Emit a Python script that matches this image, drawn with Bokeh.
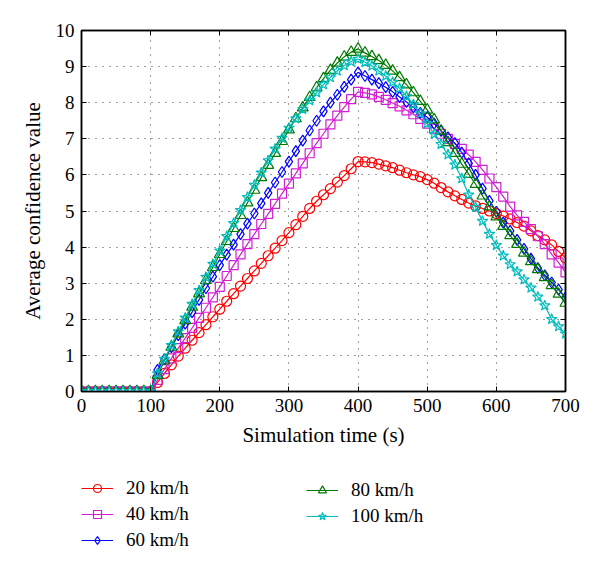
from bokeh.plotting import figure
from bokeh.layouts import column
from bokeh.models import Range1d, LinearAxis, Legend, LegendItem, FixedTicker
from bokeh.embed import file_html
from bokeh.resources import INLINE

# ---------------- data ----------------
time = list(range(0, 710, 10))
x_ticks = [0, 100, 200, 300, 400, 500, 600, 700]
y_ticks = [0, 1, 2, 3, 4, 5, 6, 7, 8, 9, 10]

zeros = [0, 0, 0, 0, 0, 0, 0, 0, 0, 0, 0]

v20 = zeros + [
    0.25, 0.5, 0.74, 0.98, 1.2, 1.42, 1.63, 1.85, 2.07, 2.28,
    2.5, 2.71, 2.92, 3.13, 3.34, 3.55, 3.76, 3.97, 4.18, 4.4,
    4.62, 4.85, 5.07, 5.27, 5.45, 5.62, 5.8, 5.98, 6.17, 6.37,
    6.36, 6.34, 6.3, 6.25, 6.2, 6.13, 6.06, 6.0, 5.95, 5.87,
    5.77, 5.65, 5.53, 5.42, 5.32, 5.22, 5.14, 5.07, 5.0, 4.93,
    4.86, 4.78, 4.68, 4.58, 4.45, 4.32, 4.2, 4.06, 3.88, 3.7]

v40 = zeros + [
    0.32, 0.62, 0.92, 1.2, 1.48, 1.76, 2.04, 2.32, 2.61, 2.9,
    3.2, 3.5, 3.8, 4.08, 4.36, 4.64, 4.92, 5.2, 5.48, 5.76,
    6.04, 6.32, 6.6, 6.88, 7.14, 7.4, 7.64, 7.88, 8.1, 8.3,
    8.27, 8.23, 8.16, 8.08, 7.99, 7.9, 7.79, 7.68, 7.55, 7.42,
    7.28, 7.14, 7.0, 6.86, 6.72, 6.56, 6.36, 6.14, 5.9, 5.66,
    5.4, 5.12, 4.88, 4.7, 4.5, 4.3, 4.08, 3.8, 3.57, 3.3]

v60 = zeros + [
    0.6, 0.9, 1.23, 1.56, 1.88, 2.2, 2.54, 2.86, 3.18, 3.5,
    3.79, 4.07, 4.36, 4.65, 4.93, 5.21, 5.5, 5.79, 6.08, 6.37,
    6.66, 6.95, 7.23, 7.5, 7.76, 8.0, 8.22, 8.44, 8.64, 8.84,
    8.74, 8.64, 8.54, 8.43, 8.3, 8.16, 8.02, 7.87, 7.72, 7.6,
    7.42, 7.22, 7.04, 6.88, 6.62, 6.32, 6.0, 5.62, 5.28, 4.98,
    4.68, 4.45, 4.2, 3.95, 3.68, 3.42, 3.22, 3.02, 2.82, 2.6]

v80 = zeros + [
    0.45, 0.85, 1.23, 1.6, 1.97, 2.34, 2.71, 3.08, 3.44, 3.8,
    4.16, 4.52, 4.88, 5.23, 5.58, 5.93, 6.27, 6.6, 6.93, 7.25,
    7.56, 7.86, 8.15, 8.42, 8.67, 8.9, 9.1, 9.27, 9.4, 9.49,
    9.38, 9.28, 9.17, 9.04, 8.88, 8.7, 8.5, 8.28, 8.04, 7.8,
    7.53, 7.22, 6.9, 6.6, 6.3, 6.02, 5.74, 5.42, 5.12, 4.84,
    4.58, 4.32, 4.08, 3.84, 3.6, 3.38, 3.16, 2.94, 2.7, 2.45]

v100 = zeros + [
    0.5, 0.9, 1.28, 1.66, 2.04, 2.42, 2.8, 3.17, 3.53, 3.9,
    4.3, 4.66, 5.02, 5.38, 5.72, 6.06, 6.4, 6.72, 7.02, 7.3,
    7.56, 7.82, 8.06, 8.28, 8.5, 8.7, 8.88, 9.03, 9.14, 9.21,
    9.12, 9.02, 8.88, 8.74, 8.57, 8.4, 8.18, 7.95, 7.7, 7.42,
    7.13, 6.85, 6.56, 6.28, 5.9, 5.45, 5.1, 4.72, 4.36, 4.05,
    3.76, 3.52, 3.32, 3.1, 2.87, 2.62, 2.38, 2.0, 1.8, 1.6]

labels = ["20 km/h", "40 km/h", "60 km/h", "80 km/h", "100 km/h"]
series = [v20, v40, v60, v80, v100]
colors = ["#ff0000", "#d21ed2", "#0000ff", "#007a00", "#00bcbc"]
markers = ["circle", "square", "diamond", "triangle", "star"]
sizes = [10, 9, 11, 11, 11]

FONT = "Liberation Serif"

# ---------------- main figure ----------------
p = figure(frame_width=484, frame_height=361,
           min_border_left=81, min_border_right=35,
           min_border_top=30, min_border_bottom=70,
           x_range=Range1d(0, 700), y_range=Range1d(0, 10),
           output_backend="svg", toolbar_location=None)
p.background_fill_color = "white"
p.border_fill_color = "white"
p.outline_line_color = "black"
p.outline_line_width = 1.5

for ax in [p.xaxis[0], p.yaxis[0]]:
    ax.axis_line_color = "black"
    ax.axis_line_width = 1.5
    ax.major_tick_in = 5
    ax.major_tick_out = 0
    ax.minor_tick_line_color = None
    ax.major_tick_line_color = "black"
    ax.major_label_text_font = FONT
    ax.major_label_text_font_size = "19px"
    ax.major_label_text_color = "black"
    ax.axis_label_text_font = FONT
    ax.axis_label_text_font_size = "21px"
    ax.axis_label_text_font_style = "normal"
    ax.axis_label_text_color = "black"

p.xaxis.ticker = FixedTicker(ticks=x_ticks)
p.yaxis.ticker = FixedTicker(ticks=y_ticks)
p.xaxis.axis_label = "Simulation time (s)"
p.yaxis.axis_label = "Average confidence value"
p.xaxis.major_label_standoff = 7
p.yaxis.major_label_standoff = 7
p.xaxis.axis_label_standoff = 8
p.yaxis.axis_label_standoff = 8

# mirrored axes (ticks only, no labels)
top_ax = LinearAxis(ticker=FixedTicker(ticks=x_ticks),
                    major_label_overrides={t: "" for t in x_ticks})
right_ax = LinearAxis(ticker=FixedTicker(ticks=y_ticks),
                      major_label_overrides={t: "" for t in y_ticks})
for ax in [top_ax, right_ax]:
    ax.axis_line_color = "black"
    ax.axis_line_width = 1.5
    ax.major_tick_in = 5
    ax.major_tick_out = 0
    ax.minor_tick_line_color = None
    ax.major_label_standoff = 0
p.add_layout(top_ax, "above")
p.add_layout(right_ax, "right")

for g in [p.xgrid[0], p.ygrid[0]]:
    g.grid_line_color = "black"
    g.grid_line_alpha = 0.75
    g.grid_line_dash = "1 6"
    g.grid_line_width = 1

for vals, col, mk, sz in zip(series, colors, markers, sizes):
    p.line(time, vals, line_color=col, line_width=1.2)
    p.scatter(time, vals, marker=mk, size=sz, line_color=col,
              fill_alpha=0, line_width=1.2)

# ---------------- legend strip ----------------
# same series drawn again, but the view range keeps them out of sight;
# only the legend of this strip is visible
leg = figure(width=600, height=100, min_border=0,
             x_range=Range1d(-200, -100), y_range=Range1d(-200, -100),
             x_axis_type=None, y_axis_type=None,
             output_backend="svg", toolbar_location=None)
leg.outline_line_color = None
leg.grid.visible = False

items = []
for lab, vals, col, mk in zip(labels, series, colors, markers):
    ln = leg.line(time, vals, line_color=col, line_width=1.2)
    sc = leg.scatter(time, vals, marker=mk, size=9, line_color=col,
                     fill_alpha=0, line_width=1.2)
    items.append(LegendItem(label=lab, renderers=[ln, sc]))

def make_legend(its, loc):
    return Legend(items=its, location=loc, orientation="vertical",
                  background_fill_alpha=0, border_line_color=None,
                  padding=0, margin=0, spacing=4,
                  glyph_width=32, glyph_height=20, label_standoff=13,
                  label_text_font=FONT, label_text_font_size="19px",
                  label_text_color="black")

leg.add_layout(make_legend(items[:3], (0, 10)))
leg.add_layout(make_legend(items[3:], (225, 34)))

layout = column(p, leg, spacing=0)
open("out.html", "w").write(file_html(layout, INLINE))
